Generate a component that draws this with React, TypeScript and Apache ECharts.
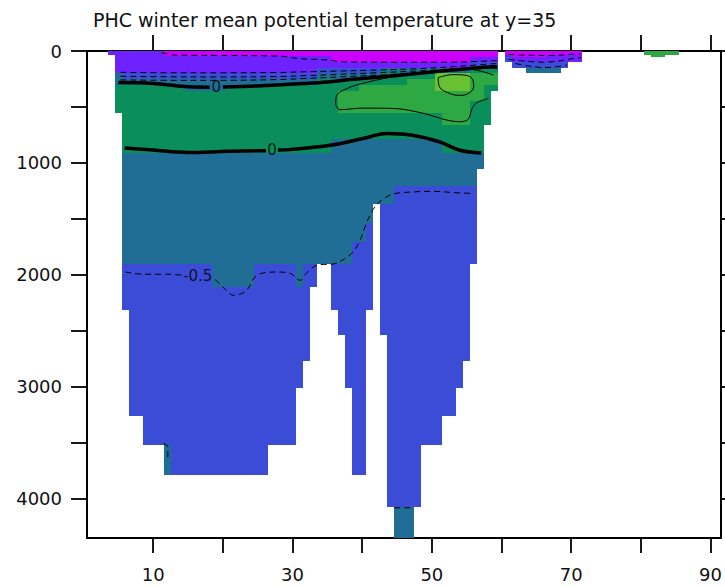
import React, { useEffect, useRef } from 'react';
import * as echarts from 'echarts';

// ---------- axes ----------
const xRange = [0.5, 91.5];
const depthRange = [0, 4350];
const xTickValues = [10, 20, 30, 40, 50, 60, 70, 80, 90];
const xLabelValues = [10, 30, 50, 70, 90];
const yTickValues = [0, 500, 1000, 1500, 2000, 2500, 3000, 3500, 4000];
const yLabelValues = [0, 1000, 2000, 3000, 4000];
const titleText = 'PHC winter mean potential temperature at y=35';

// ---------- gridded field (column runs: [firstCol, lastCol, bottomDepth]) ----------
const floorRuns = [
  [4, 4, 32], [5, 5, 552], [6, 6, 2315], [7, 8, 3258], [9, 11, 3518], [12, 26, 3790],
  [27, 30, 3518], [31, 31, 3012], [32, 32, 2770], [33, 33, 2110], [34, 35, 1905],
  [36, 36, 2315], [37, 37, 2540], [38, 38, 3012], [39, 40, 3790], [41, 41, 2315],
  [42, 42, 1370], [43, 43, 2540], [44, 44, 4074], [45, 47, 4350], [48, 48, 4074],
  [49, 51, 3518], [52, 53, 3258], [54, 54, 3012], [55, 55, 2770], [56, 56, 1905],
  [57, 57, 1057], [58, 58, 664], [59, 59, 360],
  [61, 61, 100], [62, 63, 155], [64, 68, 200], [69, 69, 155], [70, 71, 100],
];
// below -1.5
const magentaRuns = [[12, 35, 45], [36, 55, 100], [56, 59, 55], [61, 61, 32], [62, 66, 55], [67, 71, 32]];
// -1.5 .. -1
const violetRuns = [[4, 4, 32], [5, 33, 200], [34, 55, 155], [56, 59, 100], [61, 61, 55], [62, 71, 100]];
// -1 .. -0.5 (upper)
const blueRuns = [[5, 5, 200], [6, 33, 250], [34, 42, 200], [43, 55, 155], [56, 59, 155], [61, 61, 100], [62, 69, 155]];
// -0.5 .. 0 (upper)
const tealRuns = [[5, 14, 305], [15, 20, 360], [21, 33, 305], [34, 42, 250], [43, 55, 200], [56, 59, 155], [64, 68, 200]];
// 0 .. 0.5
const greenRuns = [[5, 35, 910], [36, 51, 782], [52, 57, 910], [58, 59, 664]];
// -0.5 .. 0 (deep)
const deepTealRuns = [
  [6, 18, 1905], [19, 24, 2110], [25, 30, 1905], [31, 31, 2110], [32, 35, 1905],
  [36, 38, 1905], [39, 40, 1705], [41, 41, 1536], [42, 44, 1370], [45, 56, 1208], [57, 57, 1057],
];
// extra cells: [firstCol, lastCol, topDepth, bottomDepth]
const lightGreenCells = [
  [37, 39, 360, 552], [40, 46, 305, 552], [47, 50, 250, 552], [51, 51, 200, 552],
  [52, 55, 200, 664], [56, 57, 200, 450], [58, 59, 200, 305],
];
const warmCoreCells = [[51, 55, 200, 360]];
const deepTealCells = [[12, 12, 3518, 3790], [45, 47, 4074, 4350]];
const farEastCells = [[81, 81, 0, 32], [82, 83, 0, 55], [84, 85, 0, 32]];

// ---------- contours: [x, depth] ----------
const contourM15 = [[11.2, 15], [13, 35], [20, 40], [28, 45], [31, 68], [35, 80], [37, 95], [45, 100], [52, 100], [57, 92], [59.3, 85]];
const contourM10 = [[5.3, 190], [12, 195], [20, 195], [28, 192], [32, 185], [36, 180], [42, 170], [48, 158], [53, 140], [57, 122], [59.3, 112]];
const contourM075 = [[5.3, 226], [12, 230], [20, 232], [28, 228], [32, 220], [36, 210], [42, 195], [48, 178], [53, 160], [57, 140], [59.3, 128]];
const contourM05 = [[5.3, 258], [12, 262], [20, 262], [28, 255], [32, 245], [38, 228], [44, 210], [50, 182], [55, 158], [59.3, 138]];
const zeroUpperA = [[5.0, 282], [10, 290], [14.5, 318], [18.1, 324]];
const zeroUpperB = [[20.0, 321], [25, 312], [31.6, 291], [35, 277], [38.2, 255], [42.5, 232], [46.8, 208], [50.1, 187], [55, 158], [58.7, 143], [59.4, 146]];
const zeroLowerA = [[5.9, 866], [10, 885], [15.0, 907], [20.7, 896], [26.2, 890]];
const zeroLowerB = [[27.9, 885], [29.6, 881], [35.4, 842], [40.1, 782], [43.5, 738], [47.2, 753], [51.1, 812], [54.0, 887], [57.1, 911]];
const halfContour = [[58.9, 215], [57, 180], [55, 160], [52, 168], [48, 200], [44, 235], [40, 290], [38, 330], [36.4, 390], [36.2, 470], [36.8, 525], [40, 510], [45, 515], [49, 560], [52, 615], [54, 632], [55.2, 612], [55.8, 510], [56.5, 460], [58.1, 425]];
const oneContour = [[50.9, 238], [53.0, 211], [54.9, 217], [55.9, 261], [56.0, 321], [55.2, 380], [54.0, 396], [52.6, 380], [51.1, 321], [50.9, 238]];
const deepM05A = [[6.0, 1974], [8.6, 1994], [12.0, 1994], [14.2, 2003]];
const deepM05B = [[18.9, 2040], [19.6, 2084], [21.7, 2183], [23.4, 2137], [24.9, 2003], [27.7, 1974], [29.6, 1985], [31.1, 2048], [32.0, 1985], [33.5, 1914], [36.1, 1899], [37.5, 1854], [38.7, 1795], [39.7, 1690], [40.4, 1572], [41.0, 1482], [42.0, 1378], [43.5, 1304], [44.7, 1273], [47.3, 1259], [50.2, 1253], [53.0, 1264], [55.9, 1273]];
const deepM05C = [[11.5, 3505], [12.1, 3530], [12.1, 3650]];
const deepM05D = [[44.6, 4080], [47.4, 4080]];
const rightM15 = [[61, 30], [64, 38], [67, 40], [70, 30], [71.4, 25]];
const rightM10 = [[61, 75], [63, 88], [66, 100], [68, 92], [70, 70], [71.4, 60]];
const rightM05 = [[62, 112], [64, 135], [66, 148], [68, 140], [69.4, 125]];
const contourLabels = [[19.05, 322, '0'], [27.05, 888, '0'], [16.4, 2010, '-0.5']];

const COLORS = ['#cc00ff', '#6e22ff', '#3b4dd6', '#206d96', '#0a8e5b', '#2ea843', '#68c130'];

function runValue(runs: number[][], k: number): number | null {
  for (const r of runs) if (k >= r[0] && k <= r[1]) return r[2];
  return null;
}

function buildCells() {
  const raw: number[][] = [];
  const bands = [magentaRuns, violetRuns, blueRuns, tealRuns, greenRuns, deepTealRuns];
  const bandColor = [0, 1, 2, 3, 4, 3];
  for (let k = 1; k <= 91; k++) {
    const floor = runValue(floorRuns, k);
    if (!floor) continue;
    let top = 0;
    bands.forEach((runs, i) => {
      const v = runValue(runs, k);
      if (v == null) return;
      const bottom = Math.min(v, floor);
      if (bottom > top) {
        raw.push([k - 0.5, k + 0.5, top, bottom, bandColor[i]]);
        top = bottom;
      }
    });
    if (floor > top) raw.push([k - 0.5, k + 0.5, top, floor, 2]);
  }
  // merge horizontally adjacent identical cells
  const merged: number[][] = [];
  const open: Record<string, number[]> = {};
  raw.forEach((c) => {
    const key = c[2] + '|' + c[3] + '|' + c[4];
    const prev = open[key];
    if (prev && Math.abs(prev[1] - c[0]) < 1e-9) prev[1] = c[1];
    else {
      const n = c.slice();
      merged.push(n);
      open[key] = n;
    }
  });
  const addCells = (list: number[][], color: number) =>
    list.forEach((c) => merged.push([c[0] - 0.5, c[1] + 0.5, c[2], c[3], color]));
  addCells(lightGreenCells, 5);
  addCells(warmCoreCells, 6);
  addCells(deepTealCells, 3);
  addCells(farEastCells, 5);
  return merged;
}

const FONT = "'DejaVu Sans'";

function lineSeries(data: number[][], width: number, type: any, smooth = 0.35) {
  return {
    type: 'line',
    data,
    showSymbol: false,
    symbol: 'none',
    smooth,
    clip: true,
    silent: true,
    z: 5,
    lineStyle: { color: '#000', width, type },
  };
}

export default function App() {
  const ref = useRef<HTMLDivElement>(null);
  useEffect(() => {
    if (!ref.current) return;
    const chart = echarts.init(ref.current, undefined, { renderer: 'svg' });
    const axisCommon = {
      type: 'value',
      splitLine: { show: false },
      axisLine: { show: true, onZero: false, lineStyle: { color: '#000', width: 2 } },
    };
    const dash = [6, 4];
    chart.setOption({
      animation: false,
      title: {
        text: titleText,
        left: 88,
        top: 5,
        textStyle: { fontFamily: FONT, fontSize: 19, fontWeight: 'normal', color: '#111' },
      },
      grid: { left: 87, right: 3, top: 51, bottom: 48 },
      xAxis: [
        {
          ...axisCommon,
          position: 'bottom',
          min: xRange[0],
          max: xRange[1],
          axisTick: { show: true, length: 15, customValues: xTickValues, lineStyle: { color: '#000', width: 1.8 } },
          axisLabel: { show: true, customValues: xLabelValues, margin: 27, fontFamily: FONT, fontSize: 18, color: '#111', formatter: (v: number) => String(v) },
        },
        {
          ...axisCommon,
          position: 'top',
          min: xRange[0],
          max: xRange[1],
          axisTick: { show: true, length: 16, customValues: xTickValues, lineStyle: { color: '#000', width: 1.8 } },
          axisLabel: { show: false },
        },
      ],
      yAxis: [
        {
          ...axisCommon,
          position: 'left',
          inverse: true,
          min: depthRange[0],
          max: depthRange[1],
          axisTick: { show: true, length: 16, customValues: yTickValues, lineStyle: { color: '#000', width: 1.8 } },
          axisLabel: { show: true, customValues: yLabelValues, margin: 25, fontFamily: FONT, fontSize: 18, color: '#111', formatter: (v: number) => String(v) },
        },
        {
          ...axisCommon,
          position: 'right',
          inverse: true,
          min: depthRange[0],
          max: depthRange[1],
          axisTick: { show: true, length: 8, customValues: yTickValues, lineStyle: { color: '#000', width: 1.8 } },
          axisLabel: { show: false },
        },
      ],
      series: [
        {
          type: 'custom',
          data: buildCells(),
          encode: { x: [0, 1], y: [2, 3] },
          clip: true,
          silent: true,
          z: 1,
          renderItem: (params: any, api: any) => {
            const p0 = api.coord([api.value(0), api.value(2)]);
            const p1 = api.coord([api.value(1), api.value(3)]);
            const x0 = Math.round(p0[0]);
            const y0 = Math.round(p0[1]);
            const x1 = Math.round(p1[0]);
            const y1 = Math.round(p1[1]);
            const c = COLORS[api.value(4)];
            return {
              type: 'rect',
              shape: { x: x0, y: y0, width: x1 - x0, height: y1 - y0 },
              style: { fill: c },
            };
          },
        },
        lineSeries(contourM15, 1, dash),
        lineSeries(contourM10, 1, dash),
        lineSeries(contourM075, 1, dash),
        lineSeries(contourM05, 1, dash),
        lineSeries(zeroUpperA, 3.5, 'solid'),
        lineSeries(zeroUpperB, 3.5, 'solid'),
        lineSeries(zeroLowerA, 3.5, 'solid'),
        lineSeries(zeroLowerB, 3.5, 'solid'),
        lineSeries(halfContour, 1, 'solid', 0.3),
        lineSeries(oneContour, 1, 'solid', 0.4),
        lineSeries(deepM05A, 1, dash),
        lineSeries(deepM05B, 1, dash),
        lineSeries(deepM05C, 1, dash, 0),
        lineSeries(deepM05D, 1, dash, 0),
        lineSeries(rightM15, 1, dash),
        lineSeries(rightM10, 1, dash),
        lineSeries(rightM05, 1, dash),
        {
          type: 'scatter',
          data: contourLabels,
          symbolSize: 1,
          silent: true,
          z: 6,
          itemStyle: { color: 'rgba(0,0,0,0)' },
          label: {
            show: true,
            position: 'inside',
            formatter: (p: any) => p.data[2],
            fontFamily: FONT,
            fontSize: 15,
            color: '#000',
          },
        },
      ],
    });
    return () => chart.dispose();
  }, []);
  return <div ref={ref} style={{ position: 'absolute', left: 0, top: 0, width: 725, height: 586 }} />;
}
